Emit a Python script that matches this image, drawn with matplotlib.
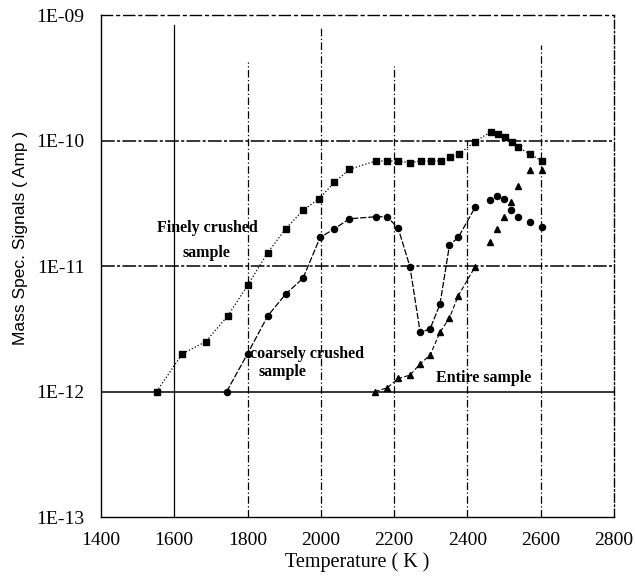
import matplotlib
matplotlib.use("Agg")
import matplotlib.pyplot as plt
from matplotlib.ticker import FixedLocator, FuncFormatter
import numpy as np

plt.rcParams['font.family'] = ['Liberation Serif', 'DejaVu Serif']

# finely crushed sample (squares)
fine_T = [1552, 1622, 1686, 1746, 1800, 1855, 1904, 1951, 1995, 2037, 2078,
          2150, 2181, 2211, 2243, 2272, 2300, 2327, 2352, 2376, 2421,
          2463, 2482, 2502, 2521, 2539, 2571, 2603]
fine_sig = [1.0e-12, 2.0e-12, 2.5e-12, 4.0e-12, 7.0e-12, 1.28e-11, 1.98e-11, 2.78e-11,
            3.43e-11, 4.65e-11, 5.9e-11,
            6.87e-11, 6.87e-11, 6.87e-11, 6.65e-11, 6.87e-11, 6.87e-11, 6.87e-11,
            7.35e-11, 7.8e-11, 9.8e-11,
            1.17e-10, 1.13e-10, 1.07e-10, 9.8e-11, 8.8e-11, 7.8e-11, 6.87e-11]

# coarsely crushed sample (circles)
coarse_T = [1743, 1800, 1855, 1904, 1951, 1998, 2037, 2078, 2150, 2181, 2211,
            2243, 2271, 2298, 2325, 2351, 2375, 2421,
            2462, 2481, 2501, 2519, 2537, 2571, 2603]
coarse_sig = [1.0e-12, 2.0e-12, 4.0e-12, 5.98e-12, 7.97e-12, 1.69e-11, 1.98e-11, 2.38e-11,
              2.47e-11, 2.47e-11, 2.0e-11, 9.9e-12, 2.96e-12, 3.15e-12, 4.96e-12,
              1.47e-11, 1.69e-11, 2.94e-11,
              3.33e-11, 3.61e-11, 3.4e-11, 2.78e-11, 2.45e-11, 2.25e-11, 2.06e-11]

# entire sample (triangles)
entire_T = [2148, 2181, 2211, 2243, 2271, 2298, 2325, 2351, 2375, 2421,
            2462, 2481, 2501, 2519, 2537, 2571, 2603]
entire_sig = [1.0e-12, 1.07e-12, 1.27e-12, 1.35e-12, 1.66e-12, 1.95e-12, 2.96e-12,
              3.87e-12, 5.8e-12, 9.9e-12,
              1.55e-11, 1.97e-11, 2.44e-11, 3.24e-11, 4.34e-11, 5.82e-11, 5.82e-11]

x_ticks = [1400, 1600, 1800, 2000, 2200, 2400, 2600, 2800]
y_ticks = [1e-13, 1e-12, 1e-11, 1e-10, 1e-9]

fig = plt.figure(figsize=(6.35, 5.78), dpi=100)
ax = fig.add_axes([0.159, 0.1055, 0.808, 0.8685])
ax.set_yscale('log')
ax.set_xlim(1400, 2800)
ax.set_ylim(1e-13, 1e-9)

# grid lines (not all reach the top in the original)
vtops = {1600: 0.98, 1800: 0.906, 2000: 0.978, 2200: 0.898, 2400: 0.751, 2600: 0.94}
for t, top in vtops.items():
    ls = '-' if t == 1600 else (0, (6, 2, 1, 2))
    ax.axvline(t, ymin=0, ymax=top, color='black', lw=0.9, ls=ls, zorder=1)
for s in [1e-12, 1e-11, 1e-10]:
    ls = '-' if s == 1e-12 else (0, (9, 1.5, 2, 1.5))
    ax.axhline(s, color='black', lw=1.1, ls=ls, zorder=1)

# series
ax.plot(fine_T, fine_sig, color='black', ls=':', lw=0.9, marker='s', ms=4.4, zorder=3)
ax.plot(coarse_T[:18], coarse_sig[:18], color='black', ls=(0, (5, 1.5)), lw=0.9, zorder=3)
ax.plot(coarse_T, coarse_sig, color='black', ls='none', marker='o', ms=4.4, zorder=3)
ax.plot(entire_T[:10], entire_sig[:10], color='black', ls=(0, (4, 2)), lw=0.8, zorder=3)
ax.plot(entire_T, entire_sig, color='black', ls='none', marker='^', ms=4.8, zorder=3)

# annotations
bold = dict(fontsize=11.5, fontweight='bold', ha='center', va='center')
ax.text(1689, 2.01e-11, 'Finely crushed', **bold)
ax.text(1689, 1.27e-11, 'sample', **bold)
ax.text(1961, 1.99e-12, 'coarsely crushed', **bold)
ax.text(1894, 1.43e-12, 'sample', **bold)
ax.text(2445, 1.28e-12, 'Entire sample', **bold)

# axes frame
ax.spines['top'].set_linestyle((0, (8, 3, 2, 3)))
ax.spines['right'].set_linestyle((0, (6, 2, 1, 2)))
ax.spines['left'].set_linestyle((0, (10, 1)))
for sp in ax.spines.values():
    sp.set_linewidth(1.0)

ax.xaxis.set_major_locator(FixedLocator(x_ticks))
ax.yaxis.set_major_locator(FixedLocator(y_ticks))
ax.yaxis.set_minor_locator(FixedLocator([]))
ax.yaxis.set_major_formatter(FuncFormatter(lambda v, p: '1E-%02d' % int(round(-np.log10(v)))))
ax.tick_params(axis='both', length=0, labelsize=14)
ax.tick_params(axis='x', pad=11)
ax.tick_params(axis='y', pad=12)

ax.set_xlabel('Temperature ( K )', fontsize=14.5, labelpad=2)
ax.set_ylabel('Mass Spec. Signals ( Amp )', fontsize=12.5, labelpad=9,
              family=['Liberation Sans', 'DejaVu Sans'])
ax.yaxis.set_label_coords(-0.142, 0.556)

fig.savefig('out.png', dpi=100)
